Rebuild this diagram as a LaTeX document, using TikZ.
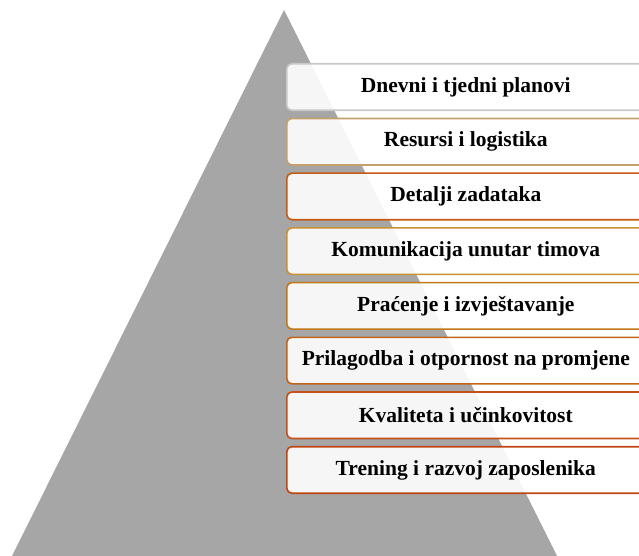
\documentclass[tikz,border=0pt]{standalone}
\usepackage{fontspec}
\setmainfont{Liberation Serif}
\usetikzlibrary{positioning}

\definecolor{pyramidgray}{HTML}{A6A6A6}
\definecolor{edgeA}{HTML}{C8C8C8}
\definecolor{edgeB}{HTML}{C4A06A}
\definecolor{edgeC}{HTML}{C55A11}
\definecolor{edgeD}{HTML}{C8902E}
\definecolor{edgeE}{HTML}{C07818}
\definecolor{edgeF}{HTML}{C0651A}
\definecolor{edgeG}{HTML}{C4501A}
\definecolor{edgeH}{HTML}{C04512}

\tikzset{
  level/.style={draw=#1, line width=1.6pt, rounded corners=5pt,
    fill=white, fill opacity=0.9, text opacity=1,
    minimum width=358pt, minimum height=46.5pt, inner sep=0pt,
    font=\bfseries\fontsize{21.5}{24}\selectfont}
}

\begin{document}
\begin{tikzpicture}[x=1pt, y=-1pt, node distance=6.6pt]
    \useasboundingbox (0,0) rectangle (639,556);
    \fill[pyramidgray] (284,10) -- (557,556) -- (12,556) -- cycle;

    \node[level=edgeA, anchor=north west] (plans) at (286,63) {Dnevni i tjedni planovi};
    \node[level=edgeB, below =of plans] (res) {Resursi i logistika};
    \node[level=edgeC, below =of res] (tasks) {Detalji zadataka};
    \node[level=edgeD, below =of tasks] (comm) {Komunikacija unutar timova};
    \node[level=edgeE, below =of comm] (track) {Praćenje i izvještavanje};
    \node[level=edgeF, below =of track] (adapt) {Prilagodba i otpornost na promjene};
    \node[level=edgeG, below =of adapt] (qual) {Kvaliteta i učinkovitost};
    \node[level=edgeH, below =of qual] (train) {Trening i razvoj zaposlenika};
\end{tikzpicture}
\end{document}
